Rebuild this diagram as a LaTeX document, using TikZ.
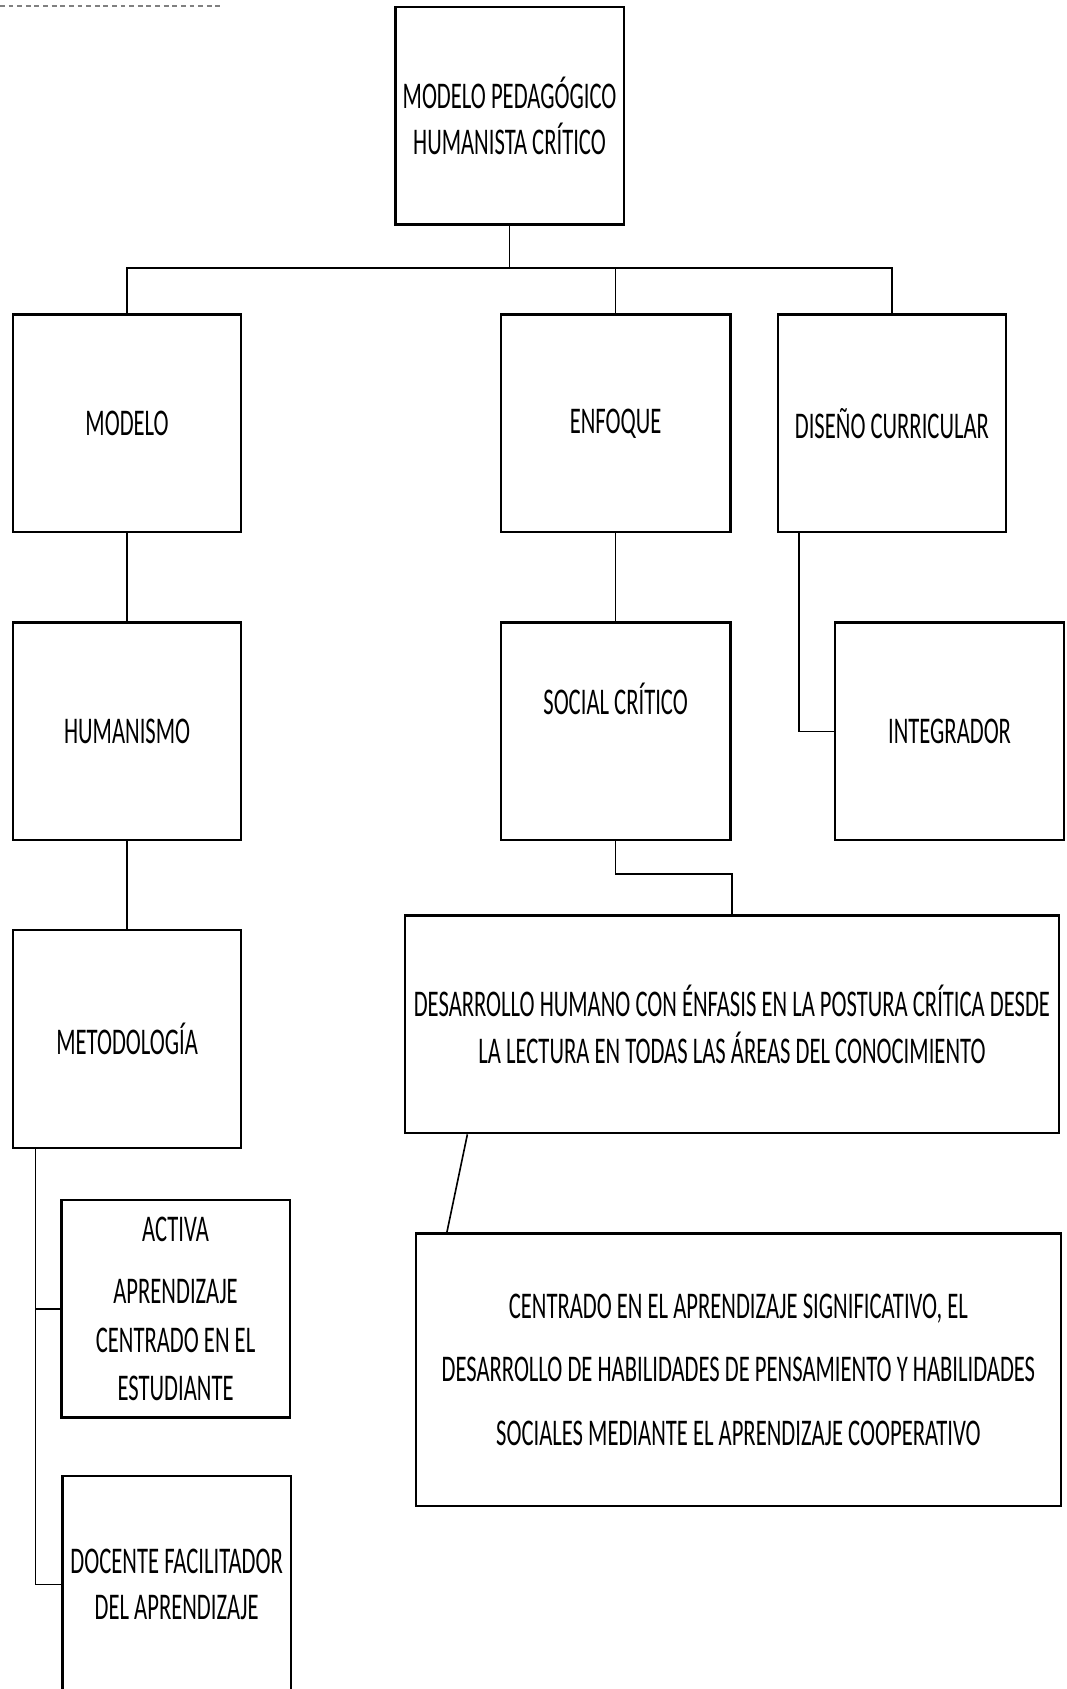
\documentclass[tikz,border=0pt]{standalone}
\usepackage{fontspec}
\setmainfont{Carlito}[FakeStretch=0.6]
\usetikzlibrary{calc}
\begin{document}
\begin{tikzpicture}[x=1pt,y=-1pt,
  box/.style={draw, line width=2.2pt, inner sep=0pt, minimum width=212pt, minimum height=202pt,
    align=center, font=\fontsize{35}{43}\selectfont},
  txt/.style={inner sep=0pt, align=center, font=\fontsize{35}{43}\selectfont},
  conn/.style={draw, line width=1.5pt}]
\useasboundingbox (0,0) rectangle (990,1568);
\clip (0,0) rectangle (990,1568);
\draw[gray, line width=1pt, dash pattern=on 4.5pt off 3.5pt] (0,5.6) -- (207,5.6);

\node[box] (top) at (473,107.5) {MODELO PEDAGÓGICO\\HUMANISTA CRÍTICO};
\node[box] (modelo) at (118,393) {MODELO};
\node[box, minimum width=213pt] (enfoque) at (571.5,393) {ENFOQUE};
\node[box] (diseno) at (828,393) {DISEÑO CURRICULAR};
\node[box] (humanismo) at (118,679) {HUMANISMO};
\node[box, minimum width=213pt] (social) at (571.5,679) {};
\node[txt] (socialtxt) at (571.5,649) {SOCIAL CRÍTICO};
\node[box, minimum width=213pt] (integrador) at (881.5,679) {INTEGRADOR};
\node[box] (metodologia) at (118,964.5) {METODOLOGÍA};
\node[box, minimum width=607pt] (desarrollo) at (679.5,951)
  {DESARROLLO HUMANO CON ÉNFASIS EN LA POSTURA CRÍTICA DESDE\\LA LECTURA EN TODAS LAS ÁREAS DEL CONOCIMIENTO};
\node[box, minimum width=599pt, minimum height=253pt, font=\fontsize{35}{59}\selectfont] (centrado) at (685.5,1271.5)
  {CENTRADO EN EL APRENDIZAJE SIGNIFICATIVO, EL\\DESARROLLO DE HABILIDADES DE PENSAMIENTO Y HABILIDADES\\SOCIALES MEDIANTE EL APRENDIZAJE COOPERATIVO};
\node[box, font=\fontsize{35}{45}\selectfont] (activa) at (163,1215)
  {ACTIVA\\[13pt]APRENDIZAJE\\CENTRADO EN EL\\ESTUDIANTE};
\node[box] (docente) at (164,1471) {DOCENTE FACILITADOR\\DEL APRENDIZAJE};

\coordinate (bus) at (473,249);
\draw[conn] (top.south) -- (bus);
\draw[conn] (modelo.north) |- (bus);
\draw[conn] (diseno.north) |- (bus);
\draw[conn] (enfoque.north) -- (enfoque.north |- bus);
\draw[conn] (modelo.south) -- (humanismo.north);
\draw[conn] (humanismo.south) -- (metodologia.north);
\draw[conn] (enfoque.south) -- (social.north);
\draw[conn] (diseno.south west) ++(21,0) |- (integrador.west);
\draw[conn] (social.south) -- ++(0,30) -| (desarrollo.north);
\draw[conn] ($(desarrollo.south west)+(59,0)$) -- ($(centrado.north west)+(30,0)$);
\path (metodologia.south west) ++(22,0) coordinate (mtrunk);
\draw[conn] (mtrunk) |- (docente.west);
\draw[conn] (activa.west) -- (activa.west -| mtrunk);
\end{tikzpicture}
\end{document}
